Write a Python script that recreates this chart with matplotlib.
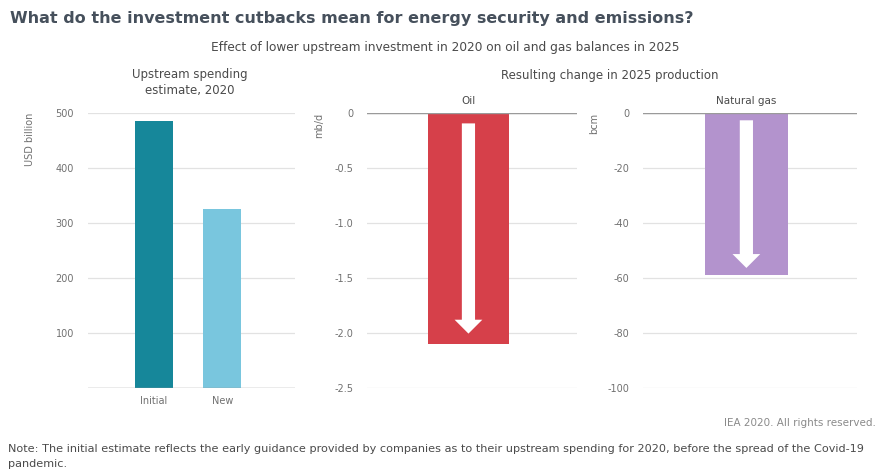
import matplotlib
matplotlib.use("Agg")
import matplotlib.pyplot as plt

# Data
spend_labels = ["Initial", "New"]
spend_values = [485, 325]          # USD billion, 2020
oil_change = -2.1                  # mb/d, 2025
gas_change = -59                   # bcm, 2025

spend_ticks = [100, 200, 300, 400, 500]
oil_ticks = [0, -0.5, -1.0, -1.5, -2.0, -2.5]
oil_ticklabels = ["0", "-0.5", "-1.0", "-1.5", "-2.0", "-2.5"]
gas_ticks = [0, -20, -40, -60, -80, -100]

# Style
C_INITIAL = "#16879a"
C_NEW = "#79c6de"
C_OIL = "#d6404a"
C_GAS = "#b393cd"
C_TEXT = "#4a4a4a"
C_TICK = "#707070"
C_GRID = "#e2e2e2"
C_BASE = "#9a9a9a"

W, H = 879, 473
fig = plt.figure(figsize=(W / 100, H / 100), dpi=100)
fig.patch.set_facecolor("white")


def px_axes(x0, x1, y_top, y_bot):
    return fig.add_axes([x0 / W, 1 - y_bot / H, (x1 - x0) / W, (y_bot - y_top) / H])


def style(ax):
    for s in ax.spines.values():
        s.set_visible(False)
    ax.tick_params(axis="both", length=0, colors=C_TICK, labelsize=7)
    ax.tick_params(axis="y", pad=10)
    ax.grid(axis="y", color=C_GRID, linewidth=0.9)
    ax.set_axisbelow(True)


# Titles
fig.text(10 / W, 1 - 18 / H,
         "What do the investment cutbacks mean for energy security and emissions?",
         fontsize=11.5, fontweight="bold", color="#46505c", va="center", ha="left")
fig.text(445 / W, 1 - 47 / H,
         "Effect of lower upstream investment in 2020 on oil and gas balances in 2025",
         fontsize=8.7, color=C_TEXT, va="center", ha="center")
fig.text(190 / W, 1 - 82.5 / H, "Upstream spending\nestimate, 2020",
         fontsize=8.5, color=C_TEXT, va="center", ha="center", linespacing=1.35)
fig.text(610 / W, 1 - 75 / H, "Resulting change in 2025 production",
         fontsize=8.5, color=C_TEXT, va="center", ha="center")

# Upstream spending panel
ax1 = px_axes(88, 295, 113, 388)
style(ax1)
ax1.bar(range(len(spend_values)), spend_values, width=0.555,
        color=[C_INITIAL, C_NEW])
ax1.set_ylim(0, 500)
ax1.set_xlim(-0.96, 2.06)
ax1.set_yticks(spend_ticks)
ax1.set_xticks(range(len(spend_labels)))
ax1.set_xticklabels(spend_labels)
ax1.tick_params(axis="x", pad=6)
ax1.axhline(0, color=C_BASE, linewidth=1.0)
ax1.text(-0.28, 1.0, "USD billion", transform=ax1.transAxes, rotation=90,
         va="top", ha="center", fontsize=7, color=C_TICK)


def change_panel(x0, x1, value, ylim, ticks, ticklabels, color, unit, name):
    ax = px_axes(x0, x1, 113, 388)
    style(ax)
    ax.bar([0], [value], width=0.8, color=color)
    ax.set_ylim(ylim, 0)
    ax.set_xlim(-1.0, 1.07)
    ax.set_yticks(ticks)
    ax.set_yticklabels(ticklabels)
    ax.set_xticks([])
    ax.axhline(0, color=C_BASE, linewidth=1.0)
    ax.text(-0.23, 1.0, unit, transform=ax.transAxes, rotation=90,
            va="top", ha="center", fontsize=7, color=C_TICK)
    ax.text(0, 1.025, name, transform=ax.get_xaxis_transform(),
            ha="center", va="bottom", fontsize=7.5, color=C_TEXT)
    ax.annotate("", xy=(0, value * 0.955), xytext=(0, value * 0.045),
                arrowprops=dict(arrowstyle="simple,tail_width=0.95,head_width=2.0,head_length=1.0",
                                fc="white", ec="none", mutation_scale=10,
                                shrinkA=0, shrinkB=0))
    return ax


change_panel(367, 577, oil_change, -2.5, oil_ticks, oil_ticklabels, C_OIL, "mb/d", "Oil")
change_panel(643, 857, gas_change, -100, gas_ticks, [str(t) for t in gas_ticks], C_GAS,
             "bcm", "Natural gas")

# Footer
fig.text(876 / W, 1 - 423 / H, "IEA 2020. All rights reserved.",
         fontsize=7.5, color="#8a8a8a", ha="right", va="center")
fig.text(8 / W, 1 - 449 / H,
         "Note: The initial estimate reflects the early guidance provided by companies as to their "
         "upstream spending for 2020, before the spread of the Covid-19",
         fontsize=8.1, color=C_TEXT, ha="left", va="center")
fig.text(8 / W, 1 - 464 / H, "pandemic.",
         fontsize=8.1, color=C_TEXT, ha="left", va="center")

fig.savefig("out.png", dpi=100, facecolor="white")
